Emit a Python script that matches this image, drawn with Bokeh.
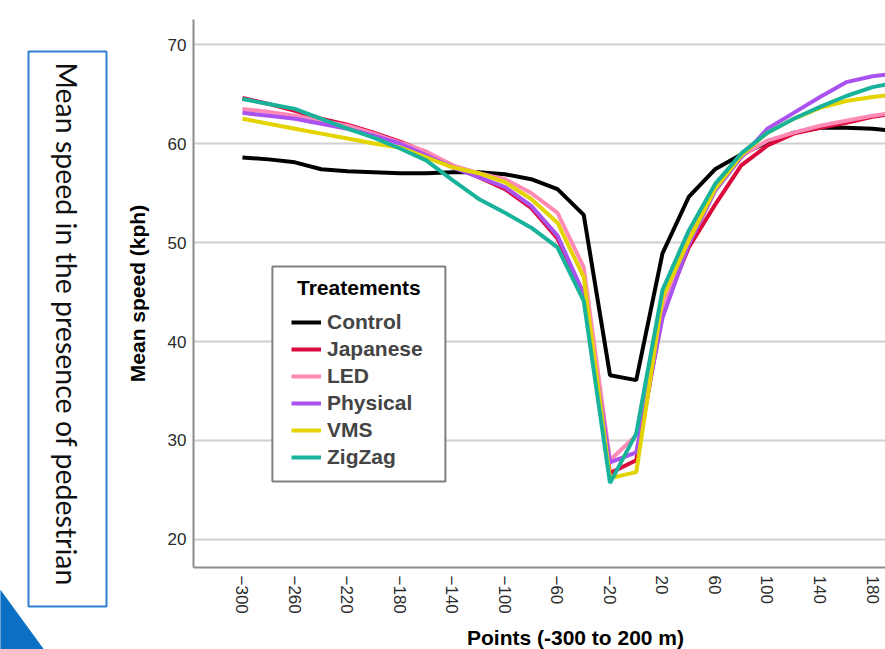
import math
from bokeh.plotting import figure
from bokeh.models import Range1d, Legend, LegendItem, FixedTicker, Label, BoxAnnotation
from bokeh.layouts import row, column
from bokeh.embed import file_html
from bokeh.resources import INLINE
from bokeh.core.properties import value

# ---------------- data ----------------
points = list(range(-300, 201, 20))
control = [58.6, 58.4, 58.1, 57.4, 57.2, 57.1, 57.0, 57.0, 57.1, 57.1, 56.9, 56.4, 55.4,
           52.8, 36.6, 36.1, 48.9, 54.6, 57.4, 58.9, 60.1, 61.1, 61.6, 61.6, 61.5, 61.2]
japanese = [64.6, 64.0, 63.3, 62.5, 61.9, 61.1, 60.2, 59.1, 57.8, 56.6, 55.4, 53.5, 50.4,
            44.8, 26.7, 28.0, 43.0, 49.5, 53.8, 57.8, 59.8, 61.0, 61.6, 62.1, 62.7, 63.1]
led = [63.5, 63.2, 62.8, 62.3, 61.8, 61.0, 60.1, 59.2, 57.8, 57.0, 56.4, 55.0, 53.0,
       47.5, 28.0, 30.5, 43.3, 50.5, 55.3, 58.7, 60.3, 61.1, 61.8, 62.3, 62.8, 63.2]
physical = [63.1, 62.8, 62.5, 62.0, 61.5, 60.8, 60.0, 58.8, 57.6, 56.6, 55.6, 53.7, 50.7,
            44.8, 27.8, 28.8, 42.4, 49.8, 55.2, 58.6, 61.5, 63.1, 64.7, 66.2, 66.8, 67.1]
vms = [62.5, 62.0, 61.5, 61.0, 60.5, 60.0, 59.6, 58.6, 57.6, 57.0, 56.1, 54.4, 52.0,
       46.5, 26.2, 26.8, 44.4, 50.2, 55.4, 58.8, 61.1, 62.5, 63.6, 64.3, 64.7, 65.0]
zigzag = [64.5, 64.0, 63.5, 62.5, 61.5, 60.6, 59.5, 58.3, 56.3, 54.4, 53.0, 51.5, 49.5,
          44.1, 25.7, 30.7, 45.2, 51.2, 55.9, 59.0, 61.1, 62.5, 63.7, 64.8, 65.7, 66.2]

treatments = ["Control", "Japanese", "LED", "Physical", "VMS", "ZigZag"]
series = [control, japanese, led, physical, vms, zigzag]
colors = ["#000000", "#DC0A3C", "#FF8AB6", "#A952F0", "#E3D400", "#19B39B"]

x_ticks = list(range(-300, 181, 40))
y_ticks = [20, 30, 40, 50, 60, 70]

legend_title = "Treatements"
x_title = "Points (-300 to 200 m)"
y_title = "Mean speed (kph)"
side_title = "Mean speed in the presence of pedestrian"

FONT = "Liberation Sans"
H = 649

# ---------------- left decoration ----------------
d = figure(width=111, height=H, x_range=Range1d(0, 111), y_range=Range1d(0, H),
           output_backend="svg", toolbar_location=None, min_border=0,
           x_axis_type=None, y_axis_type=None)
d.frame_align = False
d.grid.visible = False
d.outline_line_color = None
d.quad(left=28, right=106, bottom=43, top=598, fill_color="white",
       line_color="#2E7FD1", line_width=2)
d.text(x=[66], y=[587], text=[side_title],
       angle=-math.pi / 2, text_align="left", text_baseline="middle",
       text_font=value("Lato"), text_font_size="28.5px", text_color="#111111")
d.patch([0, 43, 0], [59, 0, 0], fill_color="#0B70C4", line_color="#0B70C4")

# ---------------- chart ----------------
p = figure(width=774, height=617, output_backend="svg", toolbar_location=None,
           x_range=Range1d(-337.3, 189.9), y_range=Range1d(17.17, 72.53),
           min_border_left=82, min_border_right=0, min_border_top=19,
           min_border_bottom=50)
p.frame_align = False
p.outline_line_color = None
p.background_fill_color = "white"
p.xgrid.grid_line_color = None
p.ygrid.ticker = FixedTicker(ticks=y_ticks)
p.ygrid.grid_line_color = "#cfcfcf"
p.ygrid.grid_line_width = 2
p.yaxis.ticker = FixedTicker(ticks=y_ticks)
p.xaxis.ticker = FixedTicker(ticks=x_ticks)
for ax in (p.xaxis, p.yaxis):
    ax.axis_line_color = "#8c8c8c"
    ax.axis_line_width = 2
    ax.major_tick_line_color = None
    ax.minor_tick_line_color = None
    ax.major_tick_out = 0
    ax.major_tick_in = 0
    ax.minor_tick_out = 0
    ax.minor_tick_in = 0
    ax.major_label_text_font = FONT
    ax.major_label_text_font_size = "17px"
    ax.major_label_text_color = "#2a2a2a"
p.xaxis.major_label_orientation = -math.pi / 2
p.xaxis.major_label_standoff = 8
p.yaxis.major_label_standoff = 7
p.yaxis.axis_label = y_title
p.yaxis.axis_label_text_font = FONT
p.yaxis.axis_label_text_font_size = "21px"
p.yaxis.axis_label_text_font_style = "bold"
p.yaxis.axis_label_text_color = "#000000"
p.yaxis.axis_label_standoff = 16

items = []
for name, vals, col in zip(treatments, series, colors):
    r = p.line(points, vals, line_color=col, line_width=4)
    items.append(LegendItem(label=name, renderers=[r]))

# legend frame and centred title (drawn separately to match the reference)
legend_box = BoxAnnotation(left=-277.2, right=-145.4, top=47.58, bottom=25.86,
                           fill_color="white", fill_alpha=1.0,
                           line_color="#7f7f7f", line_width=2, line_alpha=1.0)
p.add_layout(legend_box)
p.add_layout(Label(x=-211.3, y=45.5, text=legend_title, text_align="center",
                   text_baseline="middle", text_font=FONT, text_font_size="21px",
                   text_font_style="bold", text_color="#000000"))

legend = Legend(items=items, location=(98, 98))
legend.label_text_font = FONT
legend.label_text_font_size = "21px"
legend.label_text_font_style = "bold"
legend.glyph_width = 30
legend.glyph_height = 20
legend.label_height = 20
legend.label_standoff = 6
legend.spacing = 3
legend.padding = 10
legend.margin = 0
legend.border_line_color = None
legend.background_fill_alpha = 0.0
p.add_layout(legend)

# ---------------- x-axis title strip ----------------
b = figure(width=774, height=H - 617, x_range=Range1d(0, 774), y_range=Range1d(0, H - 617),
           output_backend="svg", toolbar_location=None, min_border=0,
           x_axis_type=None, y_axis_type=None)
b.frame_align = False
b.grid.visible = False
b.outline_line_color = None
b.text(x=[464], y=[1], text=[x_title], text_align="center", text_baseline="bottom",
       text_font=value(FONT), text_font_size="21px", text_font_style="bold",
       text_color="#000000")

layout = row(d, column(p, b))
open("out.html", "w").write(file_html(layout, INLINE))
